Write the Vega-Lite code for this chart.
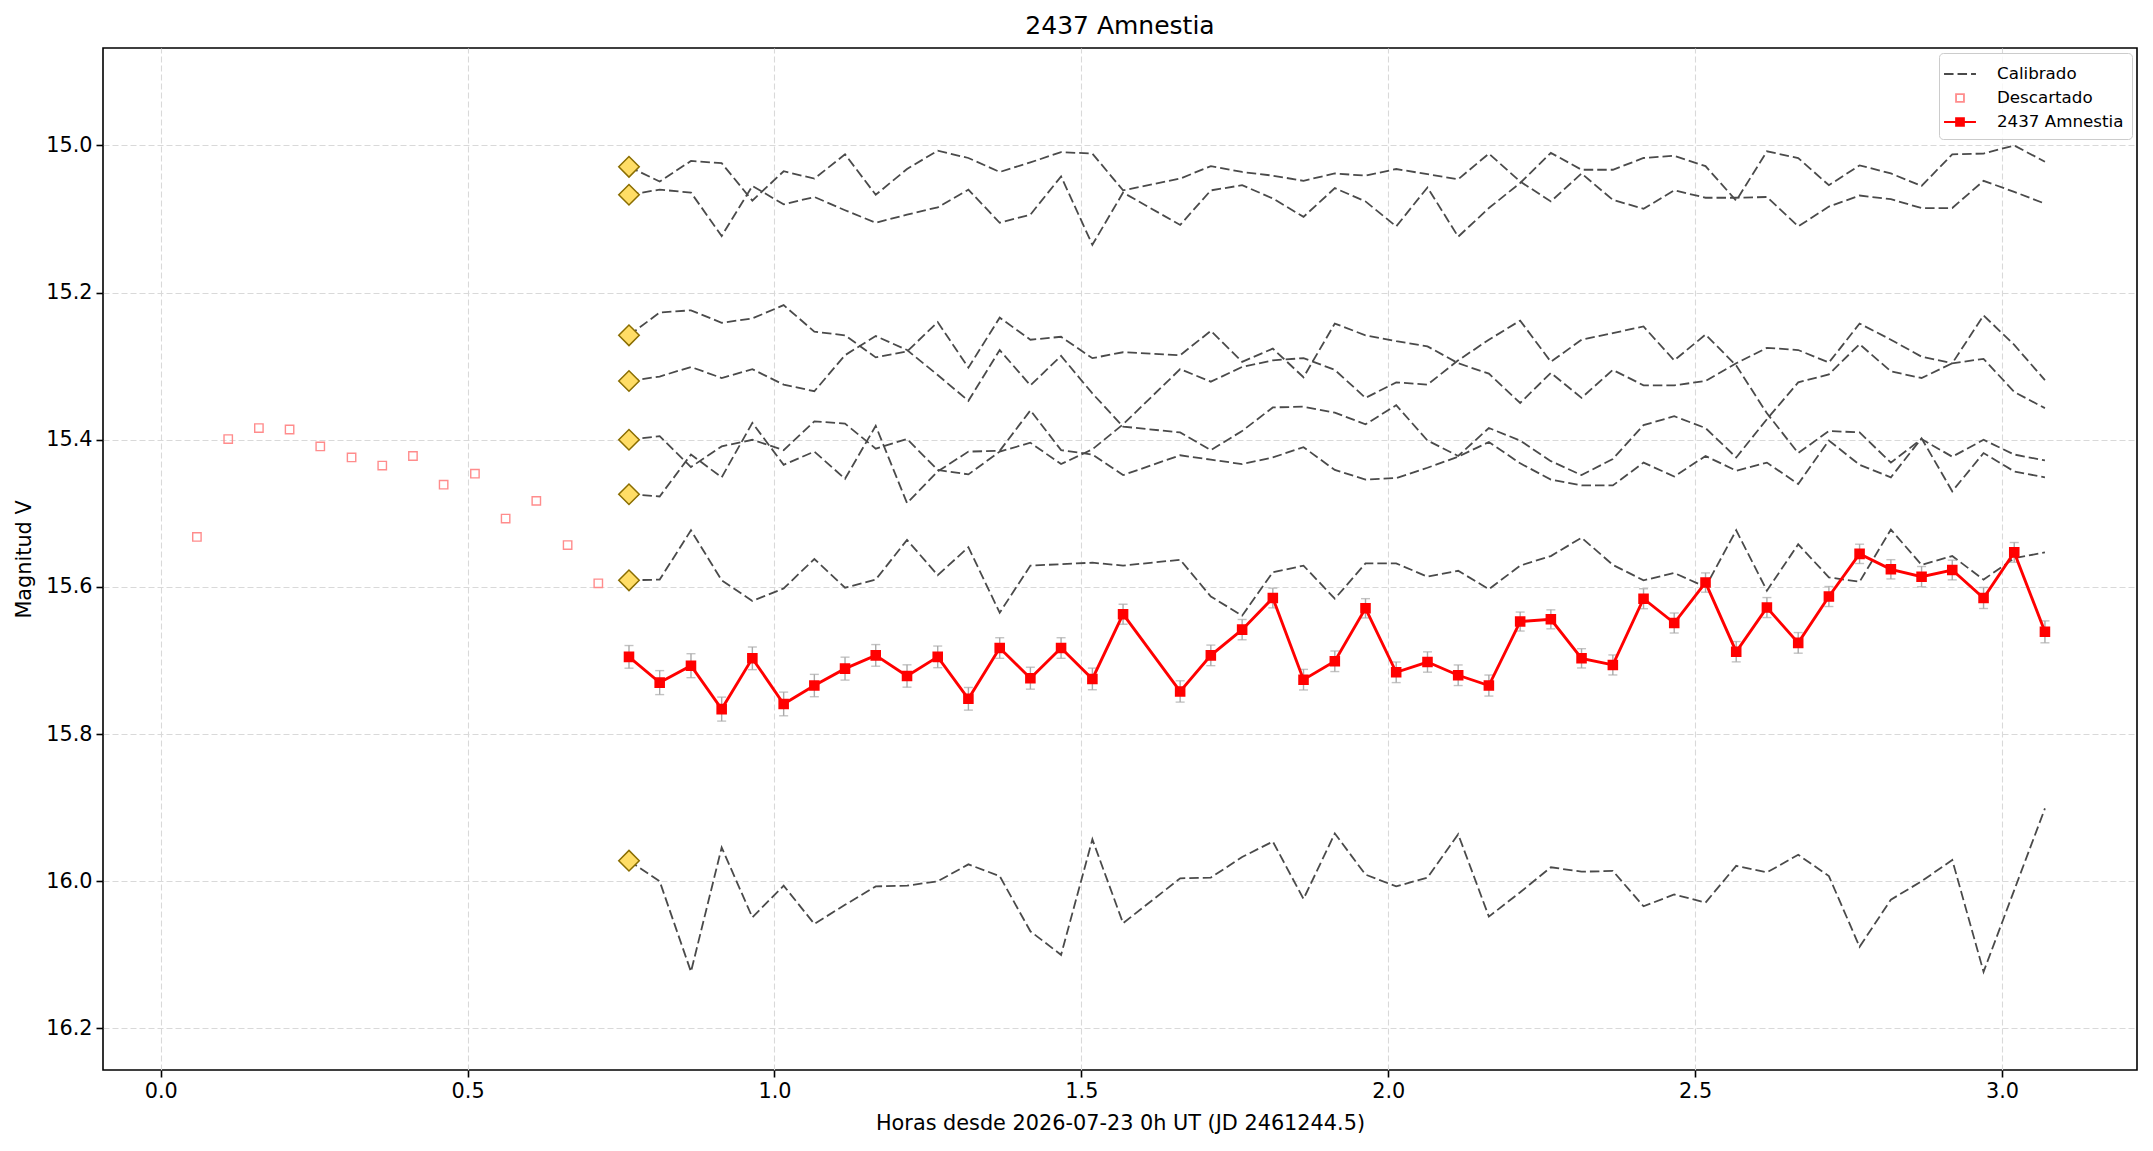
{
  "$schema": "https://vega.github.io/schema/vega-lite/v6.json",
  "autosize": "none",
  "width": 2034,
  "height": 1022,
  "padding": {"left": 103, "top": 48, "right": 16, "bottom": 81},
  "background": "white",
  "title": {"text": "2437 Amnestia", "fontSize": 25, "font": "DejaVu Sans", "fontWeight": "normal", "color": "black", "offset": 9},
  "config": {
    "font": "DejaVu Sans",
    "view": {"stroke": "black", "strokeWidth": 1.6},
    "axis": {
      "domain": false,
      "grid": true,
      "gridColor": "#d9d9d9",
      "gridDash": [6, 3],
      "gridWidth": 1.1,
      "tickColor": "black",
      "tickSize": 7,
      "tickWidth": 1.6,
      "labelFont": "DejaVu Sans",
      "labelFontSize": 20.8,
      "labelColor": "black",
      "labelPadding": 4,
      "titleFont": "DejaVu Sans",
      "titleFontSize": 20.8,
      "titleFontWeight": "normal",
      "titleColor": "black"
    },
    "legend": {
      "orient": "top-right",
      "offset": 5,
      "padding": 8,
      "symbolSize": 576,
      "symbolStrokeWidth": 1.8,
      "labelFont": "DejaVu Sans",
      "labelFontSize": 16.7,
      "labelColor": "black",
      "labelOffset": 24,
      "rowPadding": 2,
      "strokeColor": "#cccccc",
      "fillColor": "rgba(255,255,255,0.8)",
      "cornerRadius": 4
    }
  },
  "datasets": {
    "calibradas": [
      {"estrella":"A","t":0.763,"mag":15.029},{"estrella":"A","t":0.813,"mag":15.049},{"estrella":"A","t":0.864,"mag":15.021},{"estrella":"A","t":0.914,"mag":15.024},{"estrella":"A","t":0.964,"mag":15.075},{"estrella":"A","t":1.015,"mag":15.035},{"estrella":"A","t":1.065,"mag":15.045},{"estrella":"A","t":1.115,"mag":15.012},{"estrella":"A","t":1.165,"mag":15.067},{"estrella":"A","t":1.216,"mag":15.032},{"estrella":"A","t":1.266,"mag":15.007},{"estrella":"A","t":1.316,"mag":15.017},{"estrella":"A","t":1.367,"mag":15.036},{"estrella":"A","t":1.417,"mag":15.023},{"estrella":"A","t":1.467,"mag":15.009},{"estrella":"A","t":1.518,"mag":15.011},{"estrella":"A","t":1.568,"mag":15.061},{"estrella":"A","t":1.661,"mag":15.045},{"estrella":"A","t":1.711,"mag":15.028},{"estrella":"A","t":1.762,"mag":15.036},{"estrella":"A","t":1.812,"mag":15.041},{"estrella":"A","t":1.862,"mag":15.048},{"estrella":"A","t":1.913,"mag":15.038},{"estrella":"A","t":1.963,"mag":15.041},{"estrella":"A","t":2.013,"mag":15.032},{"estrella":"A","t":2.064,"mag":15.039},{"estrella":"A","t":2.114,"mag":15.046},{"estrella":"A","t":2.164,"mag":15.011},{"estrella":"A","t":2.215,"mag":15.049},{"estrella":"A","t":2.265,"mag":15.076},{"estrella":"A","t":2.315,"mag":15.038},{"estrella":"A","t":2.366,"mag":15.074},{"estrella":"A","t":2.416,"mag":15.086},{"estrella":"A","t":2.466,"mag":15.061},{"estrella":"A","t":2.517,"mag":15.071},{"estrella":"A","t":2.567,"mag":15.071},{"estrella":"A","t":2.617,"mag":15.070},{"estrella":"A","t":2.668,"mag":15.110},{"estrella":"A","t":2.718,"mag":15.083},{"estrella":"A","t":2.768,"mag":15.068},{"estrella":"A","t":2.819,"mag":15.073},{"estrella":"A","t":2.869,"mag":15.085},{"estrella":"A","t":2.919,"mag":15.085},{"estrella":"A","t":2.970,"mag":15.048},{"estrella":"A","t":3.020,"mag":15.063},{"estrella":"A","t":3.070,"mag":15.079},
      {"estrella":"B","t":0.763,"mag":15.067},{"estrella":"B","t":0.813,"mag":15.060},{"estrella":"B","t":0.864,"mag":15.064},{"estrella":"B","t":0.914,"mag":15.123},{"estrella":"B","t":0.964,"mag":15.055},{"estrella":"B","t":1.015,"mag":15.080},{"estrella":"B","t":1.065,"mag":15.070},{"estrella":"B","t":1.115,"mag":15.088},{"estrella":"B","t":1.165,"mag":15.105},{"estrella":"B","t":1.216,"mag":15.094},{"estrella":"B","t":1.266,"mag":15.084},{"estrella":"B","t":1.316,"mag":15.060},{"estrella":"B","t":1.367,"mag":15.105},{"estrella":"B","t":1.417,"mag":15.094},{"estrella":"B","t":1.467,"mag":15.042},{"estrella":"B","t":1.518,"mag":15.135},{"estrella":"B","t":1.568,"mag":15.064},{"estrella":"B","t":1.661,"mag":15.108},{"estrella":"B","t":1.711,"mag":15.061},{"estrella":"B","t":1.762,"mag":15.054},{"estrella":"B","t":1.812,"mag":15.072},{"estrella":"B","t":1.862,"mag":15.097},{"estrella":"B","t":1.913,"mag":15.058},{"estrella":"B","t":1.963,"mag":15.076},{"estrella":"B","t":2.013,"mag":15.110},{"estrella":"B","t":2.064,"mag":15.057},{"estrella":"B","t":2.114,"mag":15.124},{"estrella":"B","t":2.164,"mag":15.085},{"estrella":"B","t":2.215,"mag":15.051},{"estrella":"B","t":2.265,"mag":15.010},{"estrella":"B","t":2.315,"mag":15.033},{"estrella":"B","t":2.366,"mag":15.033},{"estrella":"B","t":2.416,"mag":15.017},{"estrella":"B","t":2.466,"mag":15.014},{"estrella":"B","t":2.517,"mag":15.028},{"estrella":"B","t":2.567,"mag":15.075},{"estrella":"B","t":2.617,"mag":15.008},{"estrella":"B","t":2.668,"mag":15.017},{"estrella":"B","t":2.718,"mag":15.054},{"estrella":"B","t":2.768,"mag":15.027},{"estrella":"B","t":2.819,"mag":15.038},{"estrella":"B","t":2.869,"mag":15.055},{"estrella":"B","t":2.919,"mag":15.012},{"estrella":"B","t":2.970,"mag":15.011},{"estrella":"B","t":3.020,"mag":15.000},{"estrella":"B","t":3.070,"mag":15.022},
      {"estrella":"C","t":0.763,"mag":15.258},{"estrella":"C","t":0.813,"mag":15.227},{"estrella":"C","t":0.864,"mag":15.224},{"estrella":"C","t":0.914,"mag":15.241},{"estrella":"C","t":0.964,"mag":15.235},{"estrella":"C","t":1.015,"mag":15.217},{"estrella":"C","t":1.065,"mag":15.253},{"estrella":"C","t":1.115,"mag":15.258},{"estrella":"C","t":1.165,"mag":15.288},{"estrella":"C","t":1.216,"mag":15.280},{"estrella":"C","t":1.266,"mag":15.240},{"estrella":"C","t":1.316,"mag":15.302},{"estrella":"C","t":1.367,"mag":15.234},{"estrella":"C","t":1.417,"mag":15.264},{"estrella":"C","t":1.467,"mag":15.260},{"estrella":"C","t":1.518,"mag":15.289},{"estrella":"C","t":1.568,"mag":15.281},{"estrella":"C","t":1.661,"mag":15.285},{"estrella":"C","t":1.711,"mag":15.252},{"estrella":"C","t":1.762,"mag":15.294},{"estrella":"C","t":1.812,"mag":15.276},{"estrella":"C","t":1.862,"mag":15.315},{"estrella":"C","t":1.913,"mag":15.242},{"estrella":"C","t":1.963,"mag":15.258},{"estrella":"C","t":2.013,"mag":15.266},{"estrella":"C","t":2.064,"mag":15.273},{"estrella":"C","t":2.114,"mag":15.296},{"estrella":"C","t":2.164,"mag":15.310},{"estrella":"C","t":2.215,"mag":15.350},{"estrella":"C","t":2.265,"mag":15.309},{"estrella":"C","t":2.315,"mag":15.343},{"estrella":"C","t":2.366,"mag":15.305},{"estrella":"C","t":2.416,"mag":15.326},{"estrella":"C","t":2.466,"mag":15.326},{"estrella":"C","t":2.517,"mag":15.320},{"estrella":"C","t":2.567,"mag":15.296},{"estrella":"C","t":2.617,"mag":15.275},{"estrella":"C","t":2.668,"mag":15.278},{"estrella":"C","t":2.718,"mag":15.295},{"estrella":"C","t":2.768,"mag":15.242},{"estrella":"C","t":2.819,"mag":15.264},{"estrella":"C","t":2.869,"mag":15.287},{"estrella":"C","t":2.919,"mag":15.296},{"estrella":"C","t":2.970,"mag":15.290},{"estrella":"C","t":3.020,"mag":15.335},{"estrella":"C","t":3.070,"mag":15.357},
      {"estrella":"D","t":0.763,"mag":15.320},{"estrella":"D","t":0.813,"mag":15.314},{"estrella":"D","t":0.864,"mag":15.301},{"estrella":"D","t":0.914,"mag":15.316},{"estrella":"D","t":0.964,"mag":15.304},{"estrella":"D","t":1.015,"mag":15.325},{"estrella":"D","t":1.065,"mag":15.334},{"estrella":"D","t":1.115,"mag":15.285},{"estrella":"D","t":1.165,"mag":15.259},{"estrella":"D","t":1.216,"mag":15.278},{"estrella":"D","t":1.266,"mag":15.312},{"estrella":"D","t":1.316,"mag":15.347},{"estrella":"D","t":1.367,"mag":15.278},{"estrella":"D","t":1.417,"mag":15.326},{"estrella":"D","t":1.467,"mag":15.286},{"estrella":"D","t":1.518,"mag":15.337},{"estrella":"D","t":1.568,"mag":15.382},{"estrella":"D","t":1.661,"mag":15.390},{"estrella":"D","t":1.711,"mag":15.414},{"estrella":"D","t":1.762,"mag":15.388},{"estrella":"D","t":1.812,"mag":15.356},{"estrella":"D","t":1.862,"mag":15.355},{"estrella":"D","t":1.913,"mag":15.363},{"estrella":"D","t":1.963,"mag":15.379},{"estrella":"D","t":2.013,"mag":15.353},{"estrella":"D","t":2.064,"mag":15.401},{"estrella":"D","t":2.114,"mag":15.422},{"estrella":"D","t":2.164,"mag":15.384},{"estrella":"D","t":2.215,"mag":15.401},{"estrella":"D","t":2.265,"mag":15.429},{"estrella":"D","t":2.315,"mag":15.448},{"estrella":"D","t":2.366,"mag":15.426},{"estrella":"D","t":2.416,"mag":15.380},{"estrella":"D","t":2.466,"mag":15.368},{"estrella":"D","t":2.517,"mag":15.384},{"estrella":"D","t":2.567,"mag":15.424},{"estrella":"D","t":2.617,"mag":15.372},{"estrella":"D","t":2.668,"mag":15.322},{"estrella":"D","t":2.718,"mag":15.311},{"estrella":"D","t":2.768,"mag":15.270},{"estrella":"D","t":2.819,"mag":15.307},{"estrella":"D","t":2.869,"mag":15.316},{"estrella":"D","t":2.919,"mag":15.296},{"estrella":"D","t":2.970,"mag":15.231},{"estrella":"D","t":3.020,"mag":15.271},{"estrella":"D","t":3.070,"mag":15.319},
      {"estrella":"E","t":0.763,"mag":15.400},{"estrella":"E","t":0.813,"mag":15.395},{"estrella":"E","t":0.864,"mag":15.437},{"estrella":"E","t":0.914,"mag":15.409},{"estrella":"E","t":0.964,"mag":15.400},{"estrella":"E","t":1.015,"mag":15.414},{"estrella":"E","t":1.065,"mag":15.375},{"estrella":"E","t":1.115,"mag":15.378},{"estrella":"E","t":1.165,"mag":15.412},{"estrella":"E","t":1.216,"mag":15.399},{"estrella":"E","t":1.266,"mag":15.441},{"estrella":"E","t":1.316,"mag":15.447},{"estrella":"E","t":1.367,"mag":15.416},{"estrella":"E","t":1.417,"mag":15.404},{"estrella":"E","t":1.467,"mag":15.433},{"estrella":"E","t":1.518,"mag":15.413},{"estrella":"E","t":1.568,"mag":15.379},{"estrella":"E","t":1.661,"mag":15.304},{"estrella":"E","t":1.711,"mag":15.321},{"estrella":"E","t":1.762,"mag":15.301},{"estrella":"E","t":1.812,"mag":15.292},{"estrella":"E","t":1.862,"mag":15.289},{"estrella":"E","t":1.913,"mag":15.305},{"estrella":"E","t":1.963,"mag":15.343},{"estrella":"E","t":2.013,"mag":15.322},{"estrella":"E","t":2.064,"mag":15.325},{"estrella":"E","t":2.114,"mag":15.292},{"estrella":"E","t":2.164,"mag":15.264},{"estrella":"E","t":2.215,"mag":15.238},{"estrella":"E","t":2.265,"mag":15.294},{"estrella":"E","t":2.315,"mag":15.264},{"estrella":"E","t":2.366,"mag":15.255},{"estrella":"E","t":2.416,"mag":15.246},{"estrella":"E","t":2.466,"mag":15.292},{"estrella":"E","t":2.517,"mag":15.257},{"estrella":"E","t":2.567,"mag":15.299},{"estrella":"E","t":2.617,"mag":15.364},{"estrella":"E","t":2.668,"mag":15.418},{"estrella":"E","t":2.718,"mag":15.388},{"estrella":"E","t":2.768,"mag":15.390},{"estrella":"E","t":2.819,"mag":15.431},{"estrella":"E","t":2.869,"mag":15.399},{"estrella":"E","t":2.919,"mag":15.423},{"estrella":"E","t":2.970,"mag":15.400},{"estrella":"E","t":3.020,"mag":15.420},{"estrella":"E","t":3.070,"mag":15.428},
      {"estrella":"F","t":0.763,"mag":15.474},{"estrella":"F","t":0.813,"mag":15.477},{"estrella":"F","t":0.864,"mag":15.420},{"estrella":"F","t":0.914,"mag":15.451},{"estrella":"F","t":0.964,"mag":15.377},{"estrella":"F","t":1.015,"mag":15.434},{"estrella":"F","t":1.065,"mag":15.416},{"estrella":"F","t":1.115,"mag":15.453},{"estrella":"F","t":1.165,"mag":15.381},{"estrella":"F","t":1.216,"mag":15.486},{"estrella":"F","t":1.266,"mag":15.443},{"estrella":"F","t":1.316,"mag":15.416},{"estrella":"F","t":1.367,"mag":15.415},{"estrella":"F","t":1.417,"mag":15.360},{"estrella":"F","t":1.467,"mag":15.414},{"estrella":"F","t":1.518,"mag":15.420},{"estrella":"F","t":1.568,"mag":15.448},{"estrella":"F","t":1.661,"mag":15.421},{"estrella":"F","t":1.711,"mag":15.427},{"estrella":"F","t":1.762,"mag":15.433},{"estrella":"F","t":1.812,"mag":15.424},{"estrella":"F","t":1.862,"mag":15.410},{"estrella":"F","t":1.913,"mag":15.441},{"estrella":"F","t":1.963,"mag":15.454},{"estrella":"F","t":2.013,"mag":15.452},{"estrella":"F","t":2.064,"mag":15.438},{"estrella":"F","t":2.114,"mag":15.423},{"estrella":"F","t":2.164,"mag":15.403},{"estrella":"F","t":2.215,"mag":15.432},{"estrella":"F","t":2.265,"mag":15.454},{"estrella":"F","t":2.315,"mag":15.462},{"estrella":"F","t":2.366,"mag":15.462},{"estrella":"F","t":2.416,"mag":15.431},{"estrella":"F","t":2.466,"mag":15.450},{"estrella":"F","t":2.517,"mag":15.422},{"estrella":"F","t":2.567,"mag":15.442},{"estrella":"F","t":2.617,"mag":15.431},{"estrella":"F","t":2.668,"mag":15.460},{"estrella":"F","t":2.718,"mag":15.401},{"estrella":"F","t":2.768,"mag":15.434},{"estrella":"F","t":2.819,"mag":15.451},{"estrella":"F","t":2.869,"mag":15.398},{"estrella":"F","t":2.919,"mag":15.470},{"estrella":"F","t":2.970,"mag":15.418},{"estrella":"F","t":3.020,"mag":15.443},{"estrella":"F","t":3.070,"mag":15.451},
      {"estrella":"G","t":0.763,"mag":15.591},{"estrella":"G","t":0.813,"mag":15.590},{"estrella":"G","t":0.864,"mag":15.523},{"estrella":"G","t":0.914,"mag":15.591},{"estrella":"G","t":0.964,"mag":15.619},{"estrella":"G","t":1.015,"mag":15.602},{"estrella":"G","t":1.065,"mag":15.562},{"estrella":"G","t":1.115,"mag":15.601},{"estrella":"G","t":1.165,"mag":15.590},{"estrella":"G","t":1.216,"mag":15.536},{"estrella":"G","t":1.266,"mag":15.584},{"estrella":"G","t":1.316,"mag":15.546},{"estrella":"G","t":1.367,"mag":15.635},{"estrella":"G","t":1.417,"mag":15.571},{"estrella":"G","t":1.467,"mag":15.569},{"estrella":"G","t":1.518,"mag":15.567},{"estrella":"G","t":1.568,"mag":15.571},{"estrella":"G","t":1.661,"mag":15.563},{"estrella":"G","t":1.711,"mag":15.613},{"estrella":"G","t":1.762,"mag":15.639},{"estrella":"G","t":1.812,"mag":15.580},{"estrella":"G","t":1.862,"mag":15.571},{"estrella":"G","t":1.913,"mag":15.616},{"estrella":"G","t":1.963,"mag":15.568},{"estrella":"G","t":2.013,"mag":15.568},{"estrella":"G","t":2.064,"mag":15.586},{"estrella":"G","t":2.114,"mag":15.578},{"estrella":"G","t":2.164,"mag":15.603},{"estrella":"G","t":2.215,"mag":15.571},{"estrella":"G","t":2.265,"mag":15.558},{"estrella":"G","t":2.315,"mag":15.533},{"estrella":"G","t":2.366,"mag":15.570},{"estrella":"G","t":2.416,"mag":15.591},{"estrella":"G","t":2.466,"mag":15.581},{"estrella":"G","t":2.517,"mag":15.600},{"estrella":"G","t":2.567,"mag":15.523},{"estrella":"G","t":2.617,"mag":15.605},{"estrella":"G","t":2.668,"mag":15.542},{"estrella":"G","t":2.718,"mag":15.587},{"estrella":"G","t":2.768,"mag":15.593},{"estrella":"G","t":2.819,"mag":15.522},{"estrella":"G","t":2.869,"mag":15.570},{"estrella":"G","t":2.919,"mag":15.558},{"estrella":"G","t":2.970,"mag":15.590},{"estrella":"G","t":3.020,"mag":15.561},{"estrella":"G","t":3.070,"mag":15.553},
      {"estrella":"H","t":0.763,"mag":15.972},{"estrella":"H","t":0.813,"mag":16.000},{"estrella":"H","t":0.864,"mag":16.123},{"estrella":"H","t":0.914,"mag":15.954},{"estrella":"H","t":0.964,"mag":16.049},{"estrella":"H","t":1.015,"mag":16.006},{"estrella":"H","t":1.065,"mag":16.058},{"estrella":"H","t":1.115,"mag":16.032},{"estrella":"H","t":1.165,"mag":16.007},{"estrella":"H","t":1.216,"mag":16.006},{"estrella":"H","t":1.266,"mag":16.000},{"estrella":"H","t":1.316,"mag":15.977},{"estrella":"H","t":1.367,"mag":15.993},{"estrella":"H","t":1.417,"mag":16.068},{"estrella":"H","t":1.467,"mag":16.100},{"estrella":"H","t":1.518,"mag":15.943},{"estrella":"H","t":1.568,"mag":16.057},{"estrella":"H","t":1.661,"mag":15.996},{"estrella":"H","t":1.711,"mag":15.995},{"estrella":"H","t":1.762,"mag":15.967},{"estrella":"H","t":1.812,"mag":15.946},{"estrella":"H","t":1.862,"mag":16.024},{"estrella":"H","t":1.913,"mag":15.935},{"estrella":"H","t":1.963,"mag":15.991},{"estrella":"H","t":2.013,"mag":16.007},{"estrella":"H","t":2.064,"mag":15.995},{"estrella":"H","t":2.114,"mag":15.936},{"estrella":"H","t":2.164,"mag":16.048},{"estrella":"H","t":2.215,"mag":16.015},{"estrella":"H","t":2.265,"mag":15.981},{"estrella":"H","t":2.315,"mag":15.987},{"estrella":"H","t":2.366,"mag":15.986},{"estrella":"H","t":2.416,"mag":16.034},{"estrella":"H","t":2.466,"mag":16.018},{"estrella":"H","t":2.517,"mag":16.029},{"estrella":"H","t":2.567,"mag":15.979},{"estrella":"H","t":2.617,"mag":15.988},{"estrella":"H","t":2.668,"mag":15.964},{"estrella":"H","t":2.718,"mag":15.993},{"estrella":"H","t":2.768,"mag":16.089},{"estrella":"H","t":2.819,"mag":16.025},{"estrella":"H","t":2.869,"mag":16.000},{"estrella":"H","t":2.919,"mag":15.971},{"estrella":"H","t":2.970,"mag":16.123},{"estrella":"H","t":3.020,"mag":16.012},{"estrella":"H","t":3.070,"mag":15.901}
    ],
    "descartados": [
      {"t":0.059,"mag":15.532},{"t":0.110,"mag":15.399},{"t":0.160,"mag":15.384},{"t":0.210,"mag":15.386},{"t":0.260,"mag":15.409},{"t":0.311,"mag":15.424},{"t":0.361,"mag":15.435},{"t":0.411,"mag":15.422},{"t":0.461,"mag":15.461},{"t":0.512,"mag":15.446},{"t":0.562,"mag":15.507},{"t":0.612,"mag":15.483},{"t":0.663,"mag":15.543},{"t":0.713,"mag":15.595}
    ],
    "objetivo": [
      {"t":0.763,"mag":15.695,"err":0.0154},{"t":0.813,"mag":15.730,"err":0.0163},{"t":0.864,"mag":15.707,"err":0.0163},{"t":0.914,"mag":15.766,"err":0.0163},{"t":0.964,"mag":15.697,"err":0.0154},{"t":1.015,"mag":15.759,"err":0.0161},{"t":1.065,"mag":15.734,"err":0.0152},{"t":1.115,"mag":15.711,"err":0.0156},{"t":1.165,"mag":15.693,"err":0.0147},{"t":1.216,"mag":15.721,"err":0.0152},{"t":1.266,"mag":15.695,"err":0.0147},{"t":1.316,"mag":15.752,"err":0.0154},{"t":1.367,"mag":15.683,"err":0.0140},{"t":1.417,"mag":15.724,"err":0.0149},{"t":1.467,"mag":15.683,"err":0.0140},{"t":1.518,"mag":15.725,"err":0.0147},{"t":1.568,"mag":15.637,"err":0.0136},
      {"t":1.661,"mag":15.742,"err":0.0145},{"t":1.711,"mag":15.693,"err":0.0140},{"t":1.762,"mag":15.658,"err":0.0138},{"t":1.812,"mag":15.615,"err":0.0134},{"t":1.862,"mag":15.726,"err":0.0140},{"t":1.913,"mag":15.701,"err":0.0140},{"t":1.963,"mag":15.629,"err":0.0131},{"t":2.013,"mag":15.716,"err":0.0140},{"t":2.064,"mag":15.702,"err":0.0138},{"t":2.114,"mag":15.720,"err":0.0140},{"t":2.164,"mag":15.734,"err":0.0143},{"t":2.215,"mag":15.647,"err":0.0129},{"t":2.265,"mag":15.644,"err":0.0129},{"t":2.315,"mag":15.697,"err":0.0131},
      {"t":2.366,"mag":15.706,"err":0.0136},{"t":2.416,"mag":15.616,"err":0.0136},{"t":2.466,"mag":15.649,"err":0.0136},{"t":2.517,"mag":15.594,"err":0.0131},{"t":2.567,"mag":15.688,"err":0.0138},{"t":2.617,"mag":15.628,"err":0.0136},{"t":2.668,"mag":15.676,"err":0.0140},{"t":2.718,"mag":15.613,"err":0.0136},{"t":2.768,"mag":15.555,"err":0.0131},{"t":2.819,"mag":15.576,"err":0.0131},{"t":2.869,"mag":15.586,"err":0.0138},{"t":2.919,"mag":15.577,"err":0.0134},{"t":2.970,"mag":15.615,"err":0.0143},{"t":3.020,"mag":15.553,"err":0.0134},{"t":3.070,"mag":15.661,"err":0.0149}
    ]
  },
  "encoding": {
    "x": {
      "field": "t",
      "type": "quantitative",
      "scale": {"domain": [-0.094, 3.22], "nice": false, "zero": false},
      "axis": {"values": [0, 0.5, 1, 1.5, 2, 2.5, 3], "format": ".1f", "title": "Horas desde 2026-07-23 0h UT (JD 2461244.5)", "titlePadding": 13}
    },
    "y": {
      "field": "mag",
      "type": "quantitative",
      "scale": {"domain": [14.8675, 16.2565], "reverse": true, "nice": false, "zero": false},
      "axis": {"values": [15, 15.2, 15.4, 15.6, 15.8, 16, 16.2], "format": ".1f", "title": "Magnitud V", "titlePadding": 11}
    }
  },
  "layer": [
    {
      "data": {"name": "calibradas"},
      "mark": {"type": "line", "strokeWidth": 1.8, "opacity": 1},
      "encoding": {
        "detail": {"field": "estrella"},
        "order": {"field": "t"},
        "color": {
          "datum": "Calibrado",
          "type": "nominal",
          "scale": {"domain": ["Calibrado", "Descartado", "2437 Amnestia"], "range": ["#4a4a4a", "#ff8c8c", "#ff0000"]},
          "legend": {"title": null}
        },
        "strokeDash": {
          "datum": "Calibrado",
          "type": "nominal",
          "scale": {"domain": ["Calibrado", "Descartado", "2437 Amnestia"], "range": [[9.5, 4], [1, 0], [1, 0]]},
          "legend": {"title": null}
        }
      }
    },
    {
      "data": {"name": "calibradas"},
      "transform": [
        {"joinaggregate": [{"op": "min", "field": "t", "as": "t0"}], "groupby": ["estrella"]},
        {"filter": "datum.t === datum.t0"}
      ],
      "mark": {"type": "point", "shape": "diamond", "filled": true, "size": 420, "fill": "#ffdd66", "stroke": "#8a6d00", "strokeWidth": 1.5, "opacity": 1}
    },
    {
      "data": {"name": "descartados"},
      "mark": {"type": "point", "filled": false, "size": 645, "strokeWidth": 1.4, "opacity": 1},
      "encoding": {
        "color": {"datum": "Descartado", "type": "nominal", "legend": {"title": null}},
        "shape": {
          "datum": "Descartado",
          "type": "nominal",
          "scale": {
            "domain": ["Calibrado", "Descartado", "2437 Amnestia"],
            "range": [
              "M-1.33,0L1.33,0",
              "M-0.33,-0.33L0.33,-0.33L0.33,0.33L-0.33,0.33Z",
              "M-1.33,0L1.33,0M-0.33,-0.33L0.33,-0.33L0.33,0.33L-0.33,0.33ZM-0.2,-0.2L0.2,-0.2L0.2,0.2L-0.2,0.2ZM-0.08,-0.08L0.08,-0.08L0.08,0.08L-0.08,0.08Z"
            ]
          },
          "legend": {"title": null}
        }
      }
    },
    {
      "data": {"name": "objetivo"},
      "mark": {"type": "errorbar", "color": "#a9a9a9", "thickness": 1.4, "ticks": {"size": 9, "thickness": 1.4, "color": "#a9a9a9"}},
      "encoding": {"yError": {"field": "err"}}
    },
    {
      "data": {"name": "objetivo"},
      "mark": {"type": "line", "strokeWidth": 2.9},
      "encoding": {
        "order": {"field": "t"},
        "color": {"datum": "2437 Amnestia", "type": "nominal", "legend": {"title": null}}
      }
    },
    {
      "data": {"name": "objetivo"},
      "mark": {"type": "point", "filled": true, "color": "#ff0000", "size": 1024, "strokeWidth": 0, "opacity": 1},
      "encoding": {
        "shape": {"datum": "2437 Amnestia", "type": "nominal", "legend": {"title": null}}
      }
    }
  ]
}
